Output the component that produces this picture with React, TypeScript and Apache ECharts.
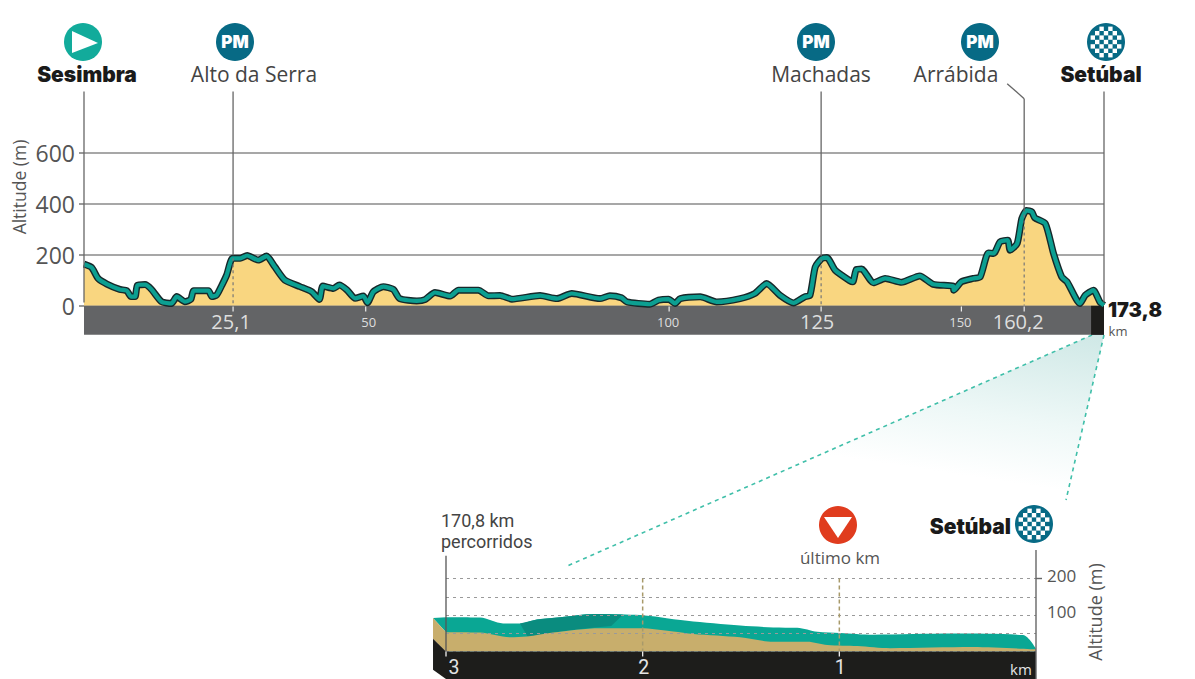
import React, { useEffect, useRef } from "react";
import * as echarts from "echarts";

const profileKm = [0,1.3,2.4,3.9,6.1,7.3,8,8.7,9.1,10.4,11.5,13.2,14.9,15.8,17.2,18.2,18.7,21.2,21.8,22.6,23.5,24.3,25.3,26.6,27.8,29.7,31.1,32.5,34.2,36.8,38.8,40.1,40.7,42.5,43.5,44.8,46.2,47.6,48.3,49.3,51,52.7,53.8,56.7,58.1,59.8,62.4,63.8,67.2,68.9,70.9,72.9,77.7,80.6,83.1,87.9,89.6,91.6,92.5,96.4,97.9,99.6,100.7,101.6,105,107.8,111.8,114.3,116.3,118.6,120.9,122.8,123.7,124.6,125.7,126.6,128,130.5,131,131.6,132.5,134.5,136.5,139.3,142.4,144.7,148.1,148.2,149.5,151.5,152.7,154.1,155,156.1,157.4,157.8,159,159.8,160.6,161.5,162,163.8,165.2,166.6,167.5,169.7,170.6,172,173.1,173.8];
const profileAlt = [162,149,106,84,63,58,35,35,79,82,63,15,8,35,15,24,58,58,35,41,80,119,185,185,196,178,194,152,100,74,54,24,76,67,80,61,28,37,11,54,74,63,27,18,23,51,37,60,60,38,39,25,39,27,47,27,38,30,14,5,21,25,8,27,34,14,27,47,86,40,10,34,40,151,184,188,138,97,93,141,143,89,106,91,116,83,76,60,93,106,112,206,204,250,256,217,243,341,373,367,344,321,204,112,93,8,40,60,14,1];

const yTicks = [0, 200, 400, 600];
const kmLabels = ["25,1", "50", "100", "125", "150", "160,2"];
const kmLabelPos = [25.4, 48, 99.7, 125.6, 149.5, 160.2];
const kmLabelBig = [true, false, false, true, false, true];
const kmLabelShift = [-2, 3, -1, -4, -1, -6];

const placeNames = ["Sesimbra", "Alto da Serra", "Machadas", "Arrábida", "Setúbal"];
const placeKm = [0, 25.4, 125.6, 160.2, 173.8];
const placeDashed = [false, true, true, true, false];
const placeTopAlt = [839, 839, 839, 811, 839];

const finalKm = [3,2.827,2.71,2.624,2.538,2.42,2.283,2.217,2.013,1.911,1.774,1.504,1.336,1.214,1.112,0.995,0.828,0.42,0.066,0];
const finalTop = [94,93,77,77,88,94,102,103,100,94,84,71,66,65,54,51,46,49,45,7];
const finalLowKm = [3,2.827,2.675,2.589,2.457,2.217,2.013,1.845,1.743,1.504,1.336,1.163,1.061,0.908,0.741,0.32,0];
const finalLow = [53,52,39,41,52,64,64,55,48,39,27,27,18,15,9,12,6];
const patchKm = [2.624,2.538,2.42,2.283,2.217,2.1,2.16,2.283,2.42,2.58];
const patchAlt = [77,88,94,102,103,101,70,64,55,36];
const finalKmTicks = [3, 2, 1];
const finalYTicks = [200, 100];

const FONT = "'Open Sans', 'Noto Sans', sans-serif";
const BOLD = "Inter, Lato, sans-serif";
const BLUE = "#076a85";

function altAt(km: number) {
  for (let i = 1; i < profileKm.length; i++) {
    if (km <= profileKm[i]) {
      const t = (km - profileKm[i - 1]) / (profileKm[i] - profileKm[i - 1]);
      return profileAlt[i - 1] + t * (profileAlt[i] - profileAlt[i - 1]);
    }
  }
  return 0;
}

function poly(api: any, pts: number[][], fill: string) {
  return { type: "polygon", shape: { points: pts.map((p) => api.coord(p)) }, style: { fill } };
}

function txt(x: number, y: number, text: string, size: number, fill: string, opts: any = {}) {
  return {
    type: "text", x, y, z: 20,
    style: { text, fontSize: size, fill, fontFamily: FONT, fontWeight: 400, align: "center", verticalAlign: "middle", ...opts },
  };
}

function flag(cx: number, cy: number) {
  const kids: any[] = [{ type: "circle", shape: { cx, cy, r: 19 }, style: { fill: BLUE } }];
  const s = 4.4;
  for (let i = -3; i <= 3; i++) {
    for (let j = -3; j <= 3; j++) {
      if ((i + j + 100) % 2 === 0 && Math.hypot(i * s, j * s) < 14.5) {
        kids.push({ type: "rect", shape: { x: cx + i * s - s / 2, y: cy + j * s - s / 2, width: s, height: s }, style: { fill: "#fff" } });
      }
    }
  }
  return { type: "group", z: 20, children: kids };
}

function pm(cx: number, cy: number) {
  return {
    type: "group", z: 20,
    children: [
      { type: "circle", shape: { cx, cy, r: 19 }, style: { fill: BLUE } },
      { type: "text", x: cx, y: cy, style: { text: "PM", fontSize: 17, fontWeight: 900, fontFamily: BOLD, fill: "#fff", align: "center", verticalAlign: "middle" } },
    ],
  };
}

export default function App() {
  const ref = useRef<HTMLDivElement>(null);
  useEffect(() => {
    const chart = echarts.init(ref.current!, undefined, { renderer: "svg" });
    const profile = profileKm.map((k, i) => [k, profileAlt[i]]);
    chart.setOption({
      animation: false,
      backgroundColor: "#fff",
      grid: [
        { left: 84, right: 91, top: 152.5, height: 153 },
        { left: 446, right: 159, top: 578.5, height: 73 },
      ],
      xAxis: [
        { type: "value", gridIndex: 0, min: 0, max: 173.8, show: false },
        { type: "value", gridIndex: 1, min: 0, max: 3, inverse: true, show: false },
      ],
      yAxis: [
        {
          type: "value", gridIndex: 0, min: 0, max: 600, interval: 200, position: "left",
          axisLine: { show: false },
          axisTick: { show: true, length: 5, lineStyle: { color: "#777", width: 1.5 } },
          axisLabel: { fontSize: 23, color: "#555", fontFamily: FONT, margin: 9,
            formatter: (v: number) => (yTicks.includes(v) ? String(v) : "") },
          splitLine: { show: true, lineStyle: { color: "#8a8a8a", width: 1.5 } },
        },
        {
          type: "value", gridIndex: 1, min: 0, max: 200, interval: 50, position: "right", z: 8,
          axisLine: { show: false },
          axisTick: { show: false },
          axisLabel: { fontSize: 17, color: "#555", fontFamily: FONT, margin: 11, verticalAlign: "bottom", lineHeight: 7,
            formatter: (v: number) => (finalYTicks.includes(v) ? String(v) : "") },
          splitLine: { show: true, lineStyle: { color: "#9a9a9a", width: 1, type: [3, 4] } },
        },
      ],
      series: [
        {
          type: "custom", xAxisIndex: 0, yAxisIndex: 0, z: 1, data: [[0]], clip: false, silent: true,
          renderItem: (_: any, api: any) => ({
            type: "group",
            children: [
              poly(api, [[0, 0], [173.8, 0], [173.8, -115], [0, -115]], "#636466"),
              poly(api, [[171.6, 0], [173.8, 0], [173.8, -115], [171.6, -115]], "#1d1d1b"),
            ],
          }),
        },
        {
          type: "line", xAxisIndex: 0, yAxisIndex: 0, z: 2, data: profile, showSymbol: false, smooth: 0.2,
          lineStyle: { color: "#16282a", width: 7, join: "round" }, areaStyle: { color: "#f9d680", opacity: 1, origin: "start" },
        },
        {
          type: "line", xAxisIndex: 0, yAxisIndex: 0, z: 3, data: profile, showSymbol: false, smooth: 0.2,
          lineStyle: { color: "#0c9f91", width: 4.2, join: "round" },
        },
        {
          type: "custom", xAxisIndex: 0, yAxisIndex: 0, z: 4, clip: false, silent: true,
          data: placeKm.map((k, i) => [k, placeTopAlt[i], i]),
          renderItem: (p: any, api: any) => {
            const i = p.dataIndex;
            const k = placeKm[i];
            const top = api.coord([k, placeTopAlt[i]]);
            const prof = placeDashed[i] ? altAt(k) : 0;
            const a = api.coord([k, prof]);
            const b = api.coord([k, 0]);
            const kids: any[] = [
              { type: "line", shape: { x1: top[0], y1: top[1], x2: a[0], y2: a[1] - 3 }, style: { stroke: "#666", lineWidth: 1.3 } },
            ];
            if (placeDashed[i]) {
              kids.push({ type: "line", shape: { x1: a[0], y1: a[1], x2: b[0], y2: b[1] }, style: { stroke: "#777", lineWidth: 1.2, lineDash: [3, 3] } });
            }
            if (placeNames[i] === "Arrábida") {
              kids.push({ type: "line", shape: { x1: top[0], y1: top[1], x2: top[0] - 17, y2: top[1] - 15 }, style: { stroke: "#666", lineWidth: 1.3 } });
            }
            return { type: "group", children: kids };
          },
        },
        {
          type: "custom", xAxisIndex: 0, yAxisIndex: 0, z: 5, clip: false, silent: true,
          data: kmLabelPos.map((k, i) => [k, 0, i]),
          renderItem: (p: any, api: any) => {
            const i = p.dataIndex;
            const a = api.coord([kmLabelPos[i], 0]);
            return {
              type: "group",
              children: [
                { type: "line", shape: { x1: a[0], y1: a[1] + 1, x2: a[0], y2: a[1] + 6 }, style: { stroke: "#eee", lineWidth: 1.2 } },
                { type: "text", x: a[0] + kmLabelShift[i], y: a[1] + 16, style: {
                  text: kmLabels[i], fontSize: kmLabelBig[i] ? 20 : 13, fill: "#dedede", fontFamily: FONT, align: "center", verticalAlign: "middle" } },
              ],
            };
          },
        },
        {
          type: "line", xAxisIndex: 1, yAxisIndex: 1, z: 2, showSymbol: false, lineStyle: { width: 0 }, smooth: 0.3,
          data: finalKm.map((k, i) => [k, finalTop[i]]),
          areaStyle: { color: "#0aa794", opacity: 1 },
        },
        {
          type: "custom", xAxisIndex: 1, yAxisIndex: 1, z: 3, clip: false, silent: true, data: [[0]],
          renderItem: (_: any, api: any) => poly(api, patchKm.map((k, i) => [k, patchAlt[i]]), "#0a8c7f"),
        },
        {
          type: "line", xAxisIndex: 1, yAxisIndex: 1, z: 4, showSymbol: false, lineStyle: { width: 0 }, smooth: 0.3,
          data: finalLowKm.map((k, i) => [k, finalLow[i]]),
          areaStyle: { color: "#c8ae6c", opacity: 1 },
        },
        {
          type: "custom", xAxisIndex: 1, yAxisIndex: 1, z: 9, clip: false, silent: true, data: [[0]],
          renderItem: (_: any, api: any) => ({
            type: "group",
            children: [
              poly(api, [[3.066, 92], [3, 94], [3, 53]], "#0aa794"),
              poly(api, [[3.066, 92], [3, 53], [3, 0], [3.066, 35]], "#c8ae6c"),
              poly(api, [[3.066, 35], [3, 0], [3, -75], [3.066, -50]], "#1d1d1b"),
              poly(api, [[3, 0], [0, 0], [0, -75], [3, -75]], "#1d1d1b"),
            ],
          }),
        },
        {
          type: "custom", xAxisIndex: 1, yAxisIndex: 1, z: 10, clip: false, silent: true,
          data: finalKmTicks.map((k) => [k, 0]),
          renderItem: (p: any, api: any) => {
            const k = finalKmTicks[p.dataIndex];
            const a = api.coord([k, 0]);
            const t = api.coord([k, k === 3 ? 262 : 200]);
            return {
              type: "group",
              children: [
                { type: "line", shape: { x1: a[0], y1: t[1], x2: a[0], y2: a[1] }, style: k === 3
                  ? { stroke: "#555", lineWidth: 1.3 }
                  : { stroke: "#a89a6a", lineWidth: 1.5, lineDash: [4, 3] } },
                { type: "line", shape: { x1: a[0], y1: a[1], x2: a[0], y2: a[1] + 5 }, style: { stroke: "#eee", lineWidth: 1.3 } },
                { type: "text", x: a[0] + (k === 3 ? 8 : 1), y: a[1] + 15.5, style: {
                  text: String(k), fontSize: 19.5, fill: "#e4e4e4", fontFamily: "Roboto, sans-serif", align: "center", verticalAlign: "middle" } },
              ],
            };
          },
        },
      ],
      graphic: [
        {
          type: "polygon", z: 0, shape: { points: [[1092, 335], [1104, 335], [1066, 500], [565, 567]] },
          style: { fill: new echarts.graphic.LinearGradient(1, 0, 0.78, 0.62, [
            { offset: 0, color: "#cfe8e6" }, { offset: 0.6, color: "#eef8f7" }, { offset: 1, color: "#ffffff" },
          ]) },
        },
        { type: "line", z: 1, shape: { x1: 1092, y1: 335, x2: 565, y2: 567 }, style: { stroke: "#3fbfa9", lineWidth: 1.6, lineDash: [4, 4] } },
        { type: "line", z: 1, shape: { x1: 1104, y1: 335, x2: 1066, y2: 500 }, style: { stroke: "#3fbfa9", lineWidth: 1.6, lineDash: [4, 4] } },
        { type: "circle", z: 20, shape: { cx: 83, cy: 42, r: 19 }, style: { fill: "#12ab9b" } },
        { type: "polygon", z: 21, shape: { points: [[72, 31], [98, 43], [72, 53]] }, style: { fill: "#fff" } },
        pm(235, 42), pm(816, 42), pm(980, 42), flag(1106, 42),
        txt(87, 74, placeNames[0], 21, "#1a1a1a", { fontFamily: BOLD, fontWeight: 900 }),
        txt(254, 74, placeNames[1], 21, "#444"),
        txt(821, 74, placeNames[2], 21, "#444"),
        txt(956, 74, placeNames[3], 21, "#444"),
        txt(1101, 74, placeNames[4], 21, "#1a1a1a", { fontFamily: BOLD, fontWeight: 900 }),
        { type: "text", x: 19, y: 187, rotation: Math.PI / 2, z: 20, style: { text: "Altitude (m)", fontSize: 17.5, fill: "#555", fontFamily: FONT, align: "center", verticalAlign: "middle" } },
        txt(1135, 310, "173,8", 20, "#1a1a1a", { fontFamily: BOLD, fontWeight: 900 }),
        txt(1118, 331, "km", 13, "#555"),
        { type: "text", x: 441, y: 510.5, z: 20, style: { text: "170,8 km\npercorridos", fontSize: 18, lineHeight: 20.5, fill: "#444", fontFamily: "Roboto, sans-serif", verticalAlign: "top" } },
        { type: "circle", z: 20, shape: { cx: 838, cy: 525, r: 19 }, style: { fill: "#e03c1e" } },
        { type: "polygon", z: 21, shape: { points: [[824, 517], [852, 517], [838, 538]] }, style: { fill: "#fff" } },
        txt(840, 557, "último km", 17, "#555"),
        { type: "text", x: 1011, y: 526, z: 20, style: { text: placeNames[4], fontSize: 21, fontWeight: 900, fontFamily: BOLD, fill: "#1a1a1a", align: "right", verticalAlign: "middle" } },
        flag(1034, 524),
        { type: "line", z: 12, shape: { x1: 1036, y1: 550, x2: 1036, y2: 679 }, style: { stroke: "#666", lineWidth: 1.4 } },
        { type: "line", z: 12, shape: { x1: 1036, y1: 578.5, x2: 1042, y2: 578.5 }, style: { stroke: "#666", lineWidth: 1.4 } },
        { type: "text", x: 1095, y: 612, rotation: Math.PI / 2, z: 20, style: { text: "Altitude (m)", fontSize: 18, fill: "#555", fontFamily: FONT, align: "center", verticalAlign: "middle" } },
        txt(1021, 669, "km", 15, "#e4e4e4"),
      ],
    });
    return () => chart.dispose();
  }, []);
  return <div ref={ref} style={{ position: "fixed", left: 0, top: 0, width: 1195, height: 679 }} />;
}
